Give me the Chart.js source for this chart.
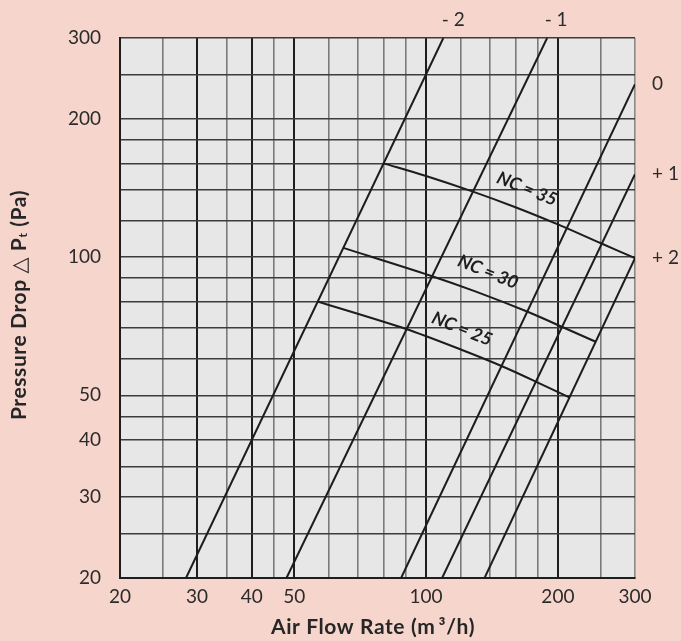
<!DOCTYPE html>
<html><head><meta charset="utf-8">
<script src="https://cdn.jsdelivr.net/npm/chart.js@4.4.0/dist/chart.umd.min.js"></script>
<style>html,body{margin:0;padding:0;background:#f6d5cc;overflow:hidden}#wrap{width:681px;height:641px;position:relative}</style>
</head><body><div id="wrap"><canvas id="c"></canvas></div>
<script>
// ---- data ----
const gridValues = [20,25,30,35,40,45,50,60,70,80,90,100,120,140,160,180,200,250,300];
const xTickLabels = [20,30,40,50,100,200,300];
const yTickLabels = [20,30,40,50,100,200,300];
const xMajorLines = [30,40,50,100,200];

const lineNames = ['- 2','- 1','0','+ 1','+ 2'];
const lineM2 = [[28.3,20],[109.5,300]];
const lineM1 = [[48,20],[189,300]];
const line0  = [[87.7,20],[300,238]];
const lineP1 = [[108.8,20],[300,151.5]];
const lineP2 = [[136,20],[300,99.5]];

const ncNames = ['NC = 25','NC = 30','NC = 35'];
const nc25 = [[56.5,80],[90,69.7],[120,62.9],[150,57.7],[180,53.3],[213,49.4]];
const nc30 = [[64.7,104.7],[102,91.2],[130,84.1],[170.6,76],[209,69.8],[244,65.4]];
const nc35 = [[80,160],[100,150.2],[127,139.2],[160,128.4],[200,117.8],[250,107.3],[300,99.5]];

const xTitle = 'Air Flow Rate (m\u2009³/h)';
// ---- build ----
const toPts = a => a.map(p => ({x:p[0], y:p[1]}));
const lineStyle = {borderColor:'#1c1c1c', borderWidth:2, pointRadius:0, showLine:true, fill:false};
const datasets = [lineM2,lineM1,line0,lineP1,lineP2].map((d,i)=>Object.assign({label:lineNames[i], data:toPts(d), tension:0}, lineStyle))
  .concat([nc25,nc30,nc35].map((d,i)=>Object.assign({label:ncNames[i], data:toPts(d), tension:0.3}, lineStyle)));

const FONT = 'Lato, "DejaVu Sans", sans-serif';
const bgPlugin = {
  id:'bg',
  beforeDraw(chart){
    const {ctx, chartArea:a} = chart;
    ctx.save(); ctx.fillStyle='#e6e7e6';
    ctx.fillRect(a.left, a.top, a.right-a.left, a.bottom-a.top);
    ctx.restore();
  }
};
const textPlugin = {
  id:'texts',
  afterDraw(chart){
    const {ctx, scales:{x,y}} = chart;
    ctx.save();
    ctx.fillStyle = '#2b2b2b';
    ctx.font = '19px ' + FONT;
    ctx.textBaseline = 'middle';
    // top labels (- 2, - 1)
    ctx.textAlign = 'center';
    ctx.fillText(lineNames[0], x.getPixelForValue(lineM2[1][0]) + 10, 20);
    ctx.fillText(lineNames[1], x.getPixelForValue(lineM1[1][0]) + 9, 20);
    // right labels
    ctx.textAlign = 'left';
    ctx.fillText(lineNames[2], 652, y.getPixelForValue(line0[1][1]));
    ctx.fillText(lineNames[3], 652, y.getPixelForValue(lineP1[1][1]));
    ctx.fillText(lineNames[4], 652, y.getPixelForValue(lineP2[1][1]));
    // NC labels
    ctx.font = 'italic bold 18px ' + FONT;
    ctx.fillStyle = '#1e1e1e';
    ctx.textAlign = 'center';
    const ncPos = [[462,329],[488,272],[527,189]];
    ncPos.forEach((p,i)=>{
      ctx.save(); ctx.translate(p[0],p[1]); ctx.rotate(22*Math.PI/180);
      ctx.fillText(ncNames[i],0,0); ctx.restore();
    });
    // x title
    ctx.font = 'bold 21px ' + FONT;
    ctx.fillStyle = '#262626';
    try { ctx.letterSpacing = '0.6px'; } catch(e) {}
    ctx.fillText(xTitle, 373, 627);
    // y title with subscript
    ctx.save();
    ctx.translate(19, 305); ctx.rotate(-Math.PI/2);
    const p1 = 'Pressure Drop \u25B3 P', sub = 't', p2 = ' (Pa)';
    ctx.font = 'bold 21px ' + FONT;
    const w1 = ctx.measureText(p1).width, w3 = ctx.measureText(p2).width;
    ctx.font = 'bold 12px ' + FONT;
    const w2 = ctx.measureText(sub).width;
    let sx = -(w1+w2+w3)/2;
    ctx.textAlign = 'left';
    ctx.font = 'bold 21px ' + FONT; ctx.fillText(p1, sx, 0); sx += w1;
    ctx.font = 'bold 12px ' + FONT; ctx.fillText(sub, sx, 4); sx += w2;
    ctx.font = 'bold 21px ' + FONT; ctx.fillText(p2, sx, 0);
    ctx.restore();
    ctx.restore();
  }
};

new Chart(document.getElementById('c'), {
  type:'scatter',
  data:{datasets},
  plugins:[bgPlugin, textPlugin],
  options:{
    responsive:true, maintainAspectRatio:false, animation:false,
    layout:{padding:{left:0, right:46, top:38, bottom:0}},
    plugins:{legend:{display:false}, tooltip:{enabled:false}},
    elements:{line:{borderCapStyle:'butt'}},
    scales:{
      x:{
        type:'logarithmic', min:20, max:300,
        afterBuildTicks: s => { s.ticks = gridValues.map(v=>({value:v})); },
        afterFit: s => { s.height = 63; },
        ticks:{autoSkip:false, maxRotation:0, padding:7, color:'#2b2b2b', font:{family:FONT, size:19},
          callback: v => xTickLabels.includes(v) ? String(v) : ''},
        grid:{drawTicks:false,
          color: c => xMajorLines.includes(c.tick && c.tick.value) ? '#1e1e1e' : (c.tick && c.tick.value===300 ? '#8a8a8a' : '#7b7b7b'),
          lineWidth: c => xMajorLines.includes(c.tick && c.tick.value) ? 2 : 1.6},
        border:{display:true, color:'#1e1e1e', width:2}
      },
      y:{
        type:'logarithmic', min:20, max:300,
        afterBuildTicks: s => { s.ticks = gridValues.map(v=>({value:v})); },
        afterFit: s => { s.width = 120; },
        ticks:{autoSkip:false, padding:19, color:'#2b2b2b', font:{family:FONT, size:19},
          callback: v => yTickLabels.includes(v) ? String(v) : ''},
        grid:{drawTicks:false, color:'#3c3c3c', lineWidth:1.5},
        border:{display:true, color:'#1e1e1e', width:2}
      }
    }
  }
});
</script></body></html>
